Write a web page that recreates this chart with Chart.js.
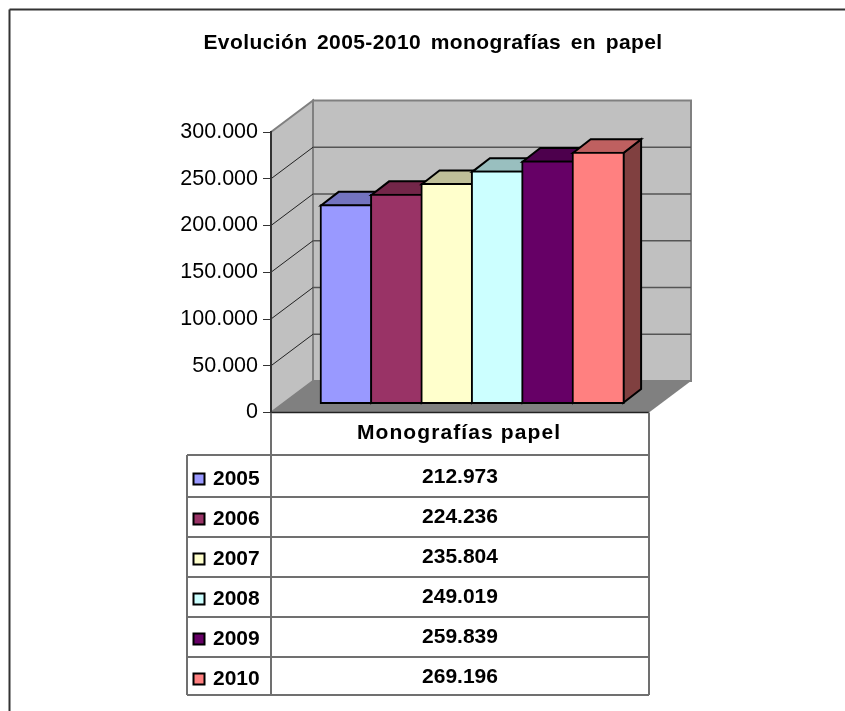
<!DOCTYPE html>
<html>
<head>
<meta charset="utf-8">
<title>Evolución monografías</title>
<script src="https://cdn.jsdelivr.net/npm/chart.js@4/dist/chart.umd.min.js"></script>
<style>
  html, body { margin: 0; padding: 0; background: #fff; }
  canvas { display: block; }
</style>
</head>
<body>
<canvas id="chart" width="845" height="711"></canvas>
<script>
const chartTitle = 'Evolución 2005-2010 monografías en papel';
const seriesName = 'Monografías papel';
const years = ['2005', '2006', '2007', '2008', '2009', '2010'];
const monografias = [212973, 224236, 235804, 249019, 259839, 269196];
const barColors = ['#9999FF', '#993366', '#FFFFCC', '#CCFFFF', '#660066', '#FF8080'];
const topColors = ['#7373BF', '#732649', '#BFBF99', '#99BFBF', '#4D004D', '#BF6060'];
const sideColors = ['#4D4D80', '#4D1A33', '#808066', '#668080', '#330033', '#804040'];

const FONT = '"Liberation Sans", Arial, sans-serif';
const GRAY = '#808080';

// 3d offsets of the old Excel look: wall depth and bar depth
const wall = { dx: 42, dy: -31.5 };
const bar = { dx: 17.7, dy: -13.7 };

// table rows, y of the horizontal lines and text baselines
const table = {
  left: 187, top: 455, bottom: 695,
  rowLines: [497, 537, 577, 617, 657],
  keyBaselines: [485, 525, 565, 605, 645, 685],
  valueBaselines: [483, 523, 563, 603, 643, 683]
};

const formatThousands = (value) => String(value).replace(/\B(?=(\d{3})+$)/g, '.');

function line(ctx, x1, y1, x2, y2, color, width) {
  ctx.beginPath();
  ctx.moveTo(x1, y1);
  ctx.lineTo(x2, y2);
  ctx.strokeStyle = color;
  ctx.lineWidth = width;
  ctx.stroke();
}

function quad(ctx, pts, fill, stroke, width) {
  ctx.beginPath();
  pts.forEach((p, i) => (i ? ctx.lineTo(p[0], p[1]) : ctx.moveTo(p[0], p[1])));
  ctx.closePath();
  ctx.fillStyle = fill;
  ctx.fill();
  if (stroke) {
    ctx.strokeStyle = stroke;
    ctx.lineWidth = width;
    ctx.lineJoin = 'miter';
    ctx.stroke();
  }
}

const backdropPlugin = {
  id: 'backdrop',
  beforeDraw(chart) {
    const { ctx, chartArea: a, scales } = chart;
    const y = scales.y;
    ctx.save();

    // outer frame, only top and left are inside the picture
    line(ctx, 9.5, 9.5, 845, 9.5, '#333333', 2);
    line(ctx, 9.5, 9.5, 9.5, 711, '#333333', 2);

    // the title has wider spacing than the plugin title can do
    ctx.fillStyle = '#000000';
    ctx.font = 'bold 21px ' + FONT;
    ctx.textAlign = 'center';
    ctx.textBaseline = 'alphabetic';
    ctx.letterSpacing = '0.4px';
    ctx.wordSpacing = '3.4px';
    ctx.fillText(chartTitle, 433, 49);
    ctx.letterSpacing = '0px';
    ctx.wordSpacing = '0px';

    // back wall and side wall
    quad(ctx, [[a.left + wall.dx, a.top + wall.dy], [a.right + wall.dx, a.top + wall.dy],
      [a.right + wall.dx, a.bottom + wall.dy], [a.left + wall.dx, a.bottom + wall.dy]], '#C0C0C0', GRAY, 2);
    quad(ctx, [[a.left, a.top], [a.left + wall.dx, a.top + wall.dy],
      [a.left + wall.dx, a.bottom + wall.dy], [a.left, a.bottom]], '#C0C0C0', GRAY, 2);

    // gridlines over both walls
    y.ticks.forEach((tick) => {
      if (tick.value === 0 || tick.value === y.max) return;
      const py = y.getPixelForValue(tick.value);
      line(ctx, a.left, py, a.left + wall.dx, py + wall.dy, '#222222', 1);
      line(ctx, a.left + wall.dx, py + wall.dy, a.right + wall.dx, py + wall.dy, '#555555', 1.5);
    });

    // floor
    quad(ctx, [[a.left, a.bottom], [a.right, a.bottom],
      [a.right + wall.dx, a.bottom + wall.dy], [a.left + wall.dx, a.bottom + wall.dy]], GRAY);
    line(ctx, a.left, a.bottom, a.right, a.bottom, '#222222', 1.5);

    drawTable(chart);
    ctx.restore();
  },
  beforeDatasetsDraw(chart) {
    const { ctx } = chart;
    ctx.save();
    // top and side faces first, the library paints the fronts over them
    chart.getDatasetMeta(0).data.forEach((el, i) => {
      const left = el.x - el.width / 2 + 1;
      const right = el.x + el.width / 2 - 1;
      const top = el.y + 1;
      const bottom = el.base - 1;
      quad(ctx, [[right, top], [right + bar.dx, top + bar.dy],
        [right + bar.dx, bottom + bar.dy], [right, bottom]], sideColors[i], '#000000', 2);
      quad(ctx, [[left, top], [left + bar.dx, top + bar.dy],
        [right + bar.dx, top + bar.dy], [right, top]], topColors[i], '#000000', 2);
    });
    ctx.restore();
  }
};

function drawTable(chart) {
  const { ctx, chartArea: a } = chart;
  const midX = (a.left + a.right) / 2;

  // table grid
  line(ctx, a.left, a.bottom, a.left, table.bottom, '#707070', 2);
  line(ctx, a.right, a.bottom, a.right, table.bottom, '#707070', 2);
  line(ctx, table.left, table.top, a.right, table.top, '#707070', 2);
  line(ctx, table.left, table.bottom, a.right, table.bottom, '#707070', 2);
  line(ctx, table.left, table.top, table.left, table.bottom, '#707070', 2);
  table.rowLines.forEach((ly) => line(ctx, table.left, ly, a.right, ly, '#707070', 2));

  ctx.fillStyle = '#000000';
  ctx.textBaseline = 'alphabetic';
  ctx.font = 'bold 21px ' + FONT;
  ctx.textAlign = 'center';
  ctx.letterSpacing = '1.1px';
  ctx.fillText(seriesName, midX - 1, 439);
  ctx.letterSpacing = '0px';

  years.forEach((year, i) => {
    const kb = table.keyBaselines[i];
    ctx.fillStyle = barColors[i];
    ctx.fillRect(193.5, kb - 11.5, 11, 11);
    ctx.strokeStyle = '#000000';
    ctx.lineWidth = 2;
    ctx.strokeRect(193.5, kb - 11.5, 11, 11);

    ctx.fillStyle = '#000000';
    ctx.textAlign = 'left';
    ctx.fillText(year, 213, kb);
    ctx.textAlign = 'center';
    ctx.fillText(formatThousands(monografias[i]), midX, table.valueBaselines[i]);
  });
}

new Chart(document.getElementById('chart'), {
  type: 'bar',
  data: {
    datasets: [
      {
        label: seriesName,
        data: monografias.map((value, i) => ({ x: i, y: value })),
        yAxisID: 'yBars',
        backgroundColor: barColors,
        borderColor: '#000000',
        borderWidth: 2,
        borderSkipped: false,
        barThickness: 52.4
      }
    ]
  },
  options: {
    responsive: false,
    animation: false,
    layout: {
      autoPadding: false,
      padding: { left: 160, right: 196, top: 132, bottom: 298.5 }
    },
    plugins: {
      legend: { display: false },
      tooltip: { enabled: false },
      title: { display: false }
    },
    scales: {
      x: {
        type: 'linear',
        display: false,
        offset: false,
        min: -1.492,
        max: 6.008
      },
      y: {
        min: 0,
        max: 300000,
        position: 'left',
        afterFit(scale) {
          scale.width = 111;
        },
        border: { display: true, color: '#333333', width: 2 },
        grid: { drawOnChartArea: false, drawTicks: true, tickLength: 8, tickColor: '#333333' },
        ticks: {
          stepSize: 50000,
          color: '#000000',
          padding: 5,
          font: { family: FONT, size: 21.5 },
          callback: (value) => formatThousands(value)
        }
      },
      // bars stand on the floor, a bit behind the front edge
      yBars: {
        display: false,
        min: -9412,
        max: 290588
      }
    }
  },
  plugins: [backdropPlugin]
});
</script>
</body>
</html>
